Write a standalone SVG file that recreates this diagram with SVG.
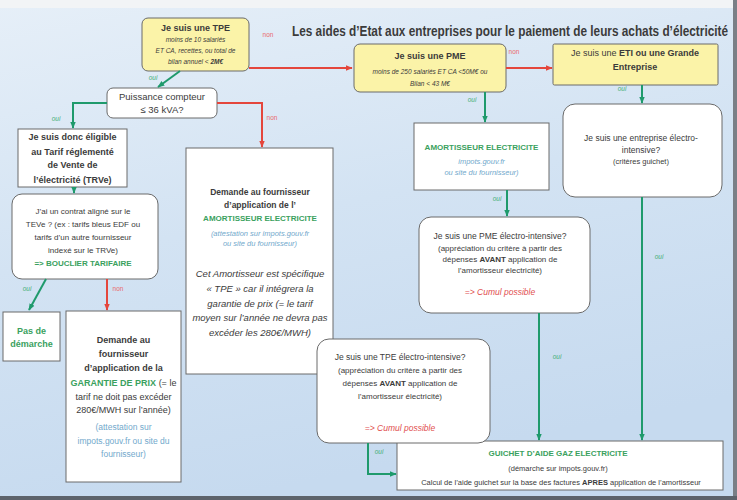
<svg xmlns="http://www.w3.org/2000/svg" width="737" height="500" viewBox="0 0 737 500">
<defs>
<linearGradient id="bg" x1="0" y1="0" x2="0.3" y2="1">
<stop offset="0" stop-color="#e6eff8"/>
<stop offset="0.5" stop-color="#d3e3f3"/>
<stop offset="1" stop-color="#c6daef"/>
</linearGradient>
<marker id="ag" viewBox="0 0 10 10" refX="9" refY="5" markerWidth="7" markerHeight="7" markerUnits="userSpaceOnUse" orient="auto"><path d="M0,1 L10,5 L0,9 z" fill="#1f9a6c"/></marker>
<marker id="ar" viewBox="0 0 10 10" refX="9" refY="5" markerWidth="7" markerHeight="7" markerUnits="userSpaceOnUse" orient="auto"><path d="M0,1 L10,5 L0,9 z" fill="#e4463c"/></marker>
<style>
text{font-family:"Liberation Sans",Arial,sans-serif;fill:#3b3b3b;text-anchor:middle}
.b{font-weight:bold}
.i{font-style:italic}
.g{fill:#3aa15e}
.r{fill:#df4f4f}
.bl{fill:#72a9cc}
.box{fill:#ffffff;stroke:#6a6a6a;stroke-width:1}
.yel{fill:#fbf3a8;stroke:#6a6a6a;stroke-width:1}
.cg{stroke:#1f9a6c;stroke-width:2;fill:none;marker-end:url(#ag)}
.cr{stroke:#e4463c;stroke-width:2;fill:none;marker-end:url(#ar)}
.lo{fill:#45b07a;font-size:6.5px;font-style:italic}
.ln{fill:#ea6a6a;font-size:6.5px}
</style>
</defs>
<rect x="0" y="0" width="737" height="500" fill="url(#bg)"/>
<rect x="0" y="0" width="737" height="8" fill="#f2f4f6"/>
<rect x="733" y="0" width="4" height="500" fill="#7a7f86"/>
<rect x="0" y="496" width="737" height="4" fill="#5d636b"/>

<g transform="translate(0,36) scale(1,1.18)">
<text id="title" x="292" y="0" class="b" font-size="12" textLength="436" lengthAdjust="spacingAndGlyphs" fill="#2a3038" text-anchor="start" style="text-anchor:start">Les aides d’Etat aux entreprises pour le paiement de leurs achats d’électricité</text>
</g>

<g id="tpe">
<rect class="yel" x="142" y="18" width="107" height="53" rx="6"/>
<text x="195.5" y="31" class="b" font-size="9">Je suis une TPE</text>
<text x="195.5" y="42" class="i" font-size="6.5">moins  de 10 salariés</text>
<text x="195.5" y="53" class="i" font-size="6.5">ET CA, recettes, ou total de</text>
<text x="195.5" y="64" class="i" font-size="6.5">bilan annuel &lt; <tspan class="b">2M€</tspan></text>
</g>

<g id="pme">
<rect class="yel" x="354" y="44" width="152" height="48" rx="6"/>
<text x="430" y="59" class="b" font-size="9">Je suis une  PME</text>
<text x="430" y="74" class="i" font-size="6.5">moins de 250 salariés ET CA &lt;50M€ ou</text>
<text x="430" y="86" class="i" font-size="6.5">Bilan &lt; 43 M€</text>
</g>

<g id="eti">
<rect class="yel" x="553" y="44" width="165" height="41" rx="1.5"/>
<text x="635" y="56" font-size="9">Je suis une <tspan class="b">ETI ou une Grande</tspan></text>
<text x="635" y="70" class="b" font-size="9">Entreprise</text>
</g>

<g id="puissance">
<rect class="box" x="107" y="88" width="110" height="30" rx="6"/>
<text x="162" y="100" font-size="9.5">Puissance compteur</text>
<text x="162" y="113" font-size="9.5">≤ 36 kVA?</text>
</g>

<g id="trve">
<rect class="box" x="18" y="129" width="109" height="58" stroke="#555"/>
<text x="72.5" y="139.5" class="b" font-size="9">Je suis donc éligible</text>
<text x="72.5" y="155" class="b" font-size="9">au Tarif réglementé</text>
<text x="72.5" y="168" class="b" font-size="9">de Vente de</text>
<text x="72.5" y="183" class="b" font-size="9">l’électricité (TRVe)</text>
</g>

<g id="contrat">
<rect class="box" x="12" y="194" width="146" height="85" rx="10"/>
<text x="83" y="214" font-size="8">J’ai un contrat aligné sur le</text>
<text x="83" y="227" font-size="8">TEVe ? (ex : tarifs bleus EDF ou</text>
<text x="83" y="240" font-size="8">tarifs d’un autre fournisseur</text>
<text x="83" y="253" font-size="8">indexé sur le TRVe)</text>
<text x="83" y="266" class="b g" font-size="8">=&gt; BOUCLIER TARIFAIRE</text>
</g>

<g id="pas-demarche">
<rect class="box" x="3" y="312" width="57" height="49"/>
<text x="31.5" y="333.5" class="b g" font-size="9">Pas de</text>
<text x="31.5" y="346.5" class="b g" font-size="9">démarche</text>
</g>

<g id="garantie">
<rect class="box" x="66" y="311" width="115" height="171"/>
<text x="123.5" y="343" class="b" font-size="9">Demande au</text>
<text x="123.5" y="357" class="b" font-size="9">fournisseur</text>
<text x="123.5" y="371" class="b" font-size="9">d’application de la</text>
<text x="123.5" y="386" font-size="9"><tspan class="b g">GARANTIE DE PRIX</tspan> (= le</text>
<text x="123.5" y="400" font-size="9">tarif ne doit pas excéder</text>
<text x="123.5" y="413" font-size="9">280€/MWH sur l’année)</text>
<text x="123.5" y="430" class="bl" font-size="8.5">(attestation sur</text>
<text x="123.5" y="444" class="bl" font-size="8.5">impots.gouv.fr ou site du</text>
<text x="123.5" y="457" class="bl" font-size="8.5">fournisseur)</text>
</g>

<g id="amortisseur-tpe">
<rect class="box" x="186" y="148" width="147" height="226"/>
<text x="260" y="195" class="b" font-size="8.5">Demande au fournisseur</text>
<text x="260" y="208" class="b" font-size="8.5">d’application de l’</text>
<text x="260" y="221" class="b g" font-size="8">AMORTISSEUR ELECTRICITE</text>
<text x="260" y="236" class="i bl" font-size="7.5">(attestation sur impots.gouv.fr</text>
<text x="260" y="246" class="i bl" font-size="7.5">ou site du fournisseur)</text>
<text x="260" y="277" class="i" font-size="9.5">Cet Amortisseur  est spécifique</text>
<text x="260" y="292" class="i" font-size="9.5">« TPE » car il intégrera la</text>
<text x="260" y="307" class="i" font-size="9.5">garantie de prix (= le tarif</text>
<text x="260" y="321" class="i" font-size="9.5">moyen sur l’année ne devra pas</text>
<text x="260" y="336" class="i" font-size="9.5">excéder les 280€/MWH)</text>
</g>

<g id="amortisseur-pme">
<rect class="box" x="414" y="123" width="135" height="67"/>
<text x="481.5" y="150" class="b g" font-size="8">AMORTISSEUR ELECTRICITE</text>
<text x="481.5" y="164" class="i bl" font-size="7.5">impots.gouv.fr</text>
<text x="481.5" y="175" class="i bl" font-size="7.5">ou site du fournisseur)</text>
</g>

<g id="pme-electro">
<rect class="box" x="419" y="217" width="171" height="96" rx="12"/>
<text x="500" y="239" font-size="8.5">Je suis une PME  électro-intensive?</text>
<text x="500" y="250.5" font-size="8">(appréciation du critère à partir des</text>
<text x="500" y="261.5" font-size="8">dépenses <tspan class="b">AVANT</tspan> application de</text>
<text x="500" y="272.5" font-size="8">l’amortisseur électricité)</text>
<text x="500" y="295" class="i r" font-size="8.5">=&gt; Cumul possible</text>
</g>

<g id="entreprise-electro">
<rect class="box" x="563" y="104" width="159" height="93" rx="12"/>
<text x="641" y="141" font-size="8.5">Je suis une entreprise électro-</text>
<text x="641" y="153" font-size="8.5">intensive?</text>
<text x="641" y="164" font-size="7.5">(critères guichet)</text>
</g>

<g id="guichet">
<rect class="box" x="397" y="441" width="326" height="49"/>
<text x="558" y="456" class="b g" font-size="8">GUICHET D’AIDE GAZ ELECTRICITE</text>
<text x="558" y="471" font-size="7.5">(démarche sur impots.gouv.fr)</text>
<text x="561" y="485" font-size="7.5">Calcul de l’aide guichet sur la base des factures <tspan class="b">APRES</tspan> application de l’amortisseur</text>
</g>

<g id="tpe-electro">
<rect class="box" x="317" y="339" width="173" height="104" rx="12"/>
<text x="400" y="360" font-size="8.5">Je suis une  TPE  électro-intensive?</text>
<text x="400" y="373" font-size="8">(appréciation du critère à partir des</text>
<text x="400" y="386" font-size="8">dépenses <tspan class="b">AVANT</tspan> application de</text>
<text x="400" y="399" font-size="8">l’amortisseur électricité)</text>
<text x="400" y="431" class="i r" font-size="8.5">=&gt; Cumul possible</text>
</g>

<g id="connectors">
<path class="cr" d="M249,68 L352,68"/>
<text class="ln" x="268" y="37">non</text>
<path class="cr" d="M506,68 L552,68"/>
<text class="ln" x="514" y="54">non</text>
<path class="cg" d="M180,71 L158,87"/>
<text class="lo" x="153" y="80">oui</text>
<path class="cg" d="M107,103 H73 V128"/>
<text class="lo" x="56" y="121">oui</text>
<path class="cr" d="M217,103 H262 V147"/>
<text class="ln" x="272" y="120">non</text>
<path class="cg" d="M74,187 V193"/>
<path class="cg" d="M46,279 L29,310"/>
<text class="lo" x="27" y="291">oui</text>
<path class="cr" d="M107,279 V310"/>
<text class="ln" x="118" y="291">non</text>
<path class="cg" d="M485,92 V122"/>
<text class="lo" x="472" y="102">oui</text>
<path class="cg" d="M507,190 V216"/>
<text class="lo" x="497" y="201">oui</text>
<path class="cg" d="M642,85 V103"/>
<text class="lo" x="622" y="91">oui</text>
<path class="cg" d="M642,197 V440"/>
<text class="lo" x="659" y="259">oui</text>
<path class="cg" d="M539,313 V440"/>
<text class="lo" x="557" y="359">oui</text>
<path class="cg" d="M368,443 V474 H396"/>
<text class="lo" x="379" y="454">oui</text>
</g>
</svg>
